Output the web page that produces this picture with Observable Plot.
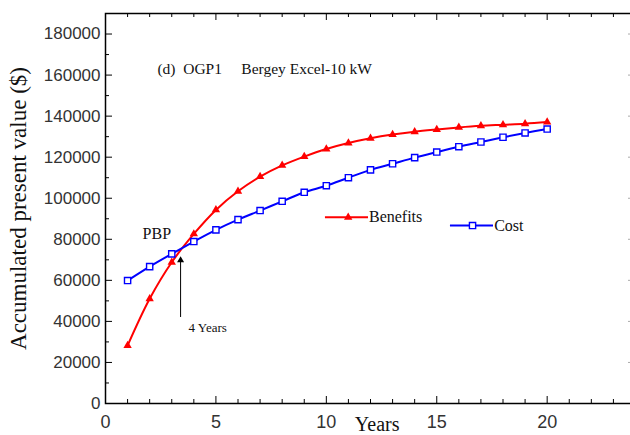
<!DOCTYPE html>
<html><head><meta charset="utf-8">
<script src="https://cdn.jsdelivr.net/npm/d3@7"></script>
<script src="https://cdn.jsdelivr.net/npm/@observablehq/plot@0.6"></script>
<style>
html,body{margin:0;padding:0;background:#fff;overflow:hidden;}
#chart{width:630px;height:435px;overflow:hidden;position:relative;}
#chart svg{max-width:none !important;}
</style></head><body><div id="chart"></div>
<script>
const years = [1,2,3,4,5,6,7,8,9,10,11,12,13,14,15,16,17,18,19,20];
const benefits = [28200,51000,68800,82600,94300,103400,110500,116000,120300,124000,126900,129200,131000,132400,133500,134500,135300,135800,136300,137100];
const cost = [59900,66700,72900,78900,84600,89600,94000,98500,102900,106100,110000,113800,116800,119800,122500,125100,127400,129700,131800,133700];
const xMajor = [0,5,10,15,20];
const xMinor = [1,2,3,4,6,7,8,9,11,12,13,14,16,17,18,19,21,22,23];
const yMajor = [0,20000,40000,60000,80000,100000,120000,140000,160000,180000];
const yMinor = [10000,30000,50000,70000,90000,110000,130000,150000,170000];
const seriesNames = ["Benefits","Cost"];
const titleText = "(d)\u00a0\u00a0OGP1\u00a0\u00a0\u00a0\u00a0\u00a0Bergey Excel-10 kW";

const bRows = years.map((y,i)=>({year:y, value:benefits[i]}));
const cRows = years.map((y,i)=>({year:y, value:cost[i]}));

const serif = "Liberation Serif, Times New Roman, serif";
const sans = "Liberation Sans, Arial, sans-serif";
const W = 636, H = 435, ML = 105, MR = 1, MT = 13, MB = 32;
const fw = W - ML - MR, fh = H - MT - MB;

const chart = Plot.plot({
  width: W, height: H,
  marginLeft: ML, marginRight: MR, marginTop: MT, marginBottom: MB,
  style: {background: "white", overflow: "visible", maxWidth: "none"},
  x: {domain: [0, 24], axis: null},
  y: {domain: [0, 190000], axis: null},
  marks: [
    // inward ticks: bottom / top
    Plot.ruleX(xMajor, {x: d => d, insetTop: fh - 7, stroke: "black"}),
    Plot.ruleX(xMinor, {x: d => d, insetTop: fh - 4, stroke: "black"}),
    Plot.ruleX(xMajor, {x: d => d, insetBottom: fh - 7, stroke: "black"}),
    Plot.ruleX(xMinor, {x: d => d, insetBottom: fh - 4, stroke: "black"}),
    // inward ticks: left / right
    Plot.ruleY(yMajor, {y: d => d, insetRight: fw - 7, stroke: "black"}),
    Plot.ruleY(yMinor, {y: d => d, insetRight: fw - 4, stroke: "black"}),
    Plot.ruleY(yMajor, {y: d => d, insetLeft: fw - 7, stroke: "#aaa"}),
    Plot.ruleY(yMinor, {y: d => d, insetLeft: fw - 4, stroke: "#aaa"}),
    Plot.frame({stroke: "black", strokeWidth: 1.5}),
    // tick labels
    Plot.axisX(xMajor, {anchor: "bottom", tickSize: 0, tickPadding: 12, label: null,
      tickFormat: d => String(d), fontSize: 18, fontFamily: sans, color: "#333"}),
    Plot.axisY(yMajor, {anchor: "left", tickSize: 0, tickPadding: 5, label: null,
      tickFormat: d => String(d), fontSize: 17, fontFamily: sans, color: "#333"}),
    // axis titles
    Plot.text(["Accumulated present value ($)"], {frameAnchor: "left", dx: -87, rotate: -90,
      fontFamily: serif, fontSize: 23, fill: "#111", textAnchor: "middle", lineAnchor: "middle"}),
    Plot.text(["Years"], {x: 12.3, frameAnchor: "bottom", dy: 13, lineAnchor: "top",
      fontFamily: serif, fontSize: 20, fill: "#111"}),
    // series
    Plot.line(bRows, {x: "year", y: "value", stroke: "#ff0000", strokeWidth: 2, curve: "catmull-rom"}),
    Plot.dot(bRows, {x: "year", y: "value", symbol: "triangle", fill: "#ff0000", r: 3.1}),
    Plot.line(cRows, {x: "year", y: "value", stroke: "#0000ff", strokeWidth: 2, curve: "catmull-rom"}),
    Plot.dot(cRows, {x: "year", y: "value", symbol: "square", fill: "white", stroke: "#0000ff", strokeWidth: 1.4, r: 3.5}),
    // legend
    Plot.ruleY([90700], {x1: 9.96, x2: 11.91, stroke: "#ff0000", strokeWidth: 2}),
    Plot.dot([90700], {x: 10.99, y: d => d, symbol: "triangle", fill: "#ff0000", r: 3.1}),
    Plot.text([seriesNames[0]], {x: 11.93, y: 90700, textAnchor: "start", fontFamily: serif, fontSize: 16, fill: "#111"}),
    Plot.ruleY([86700], {x1: 15.62, x2: 17.57, stroke: "#0000ff", strokeWidth: 2}),
    Plot.dot([86700], {x: 16.62, y: d => d, symbol: "square", fill: "white", stroke: "#0000ff", strokeWidth: 1.4, r: 3.5}),
    Plot.text([seriesNames[1]], {x: 17.6, y: 86700, textAnchor: "start", fontFamily: serif, fontSize: 16, fill: "#111"}),
    // annotations
    Plot.text([titleText], {x: 2.35, y: 163000, textAnchor: "start", fontFamily: serif, fontSize: 15.5, fill: "#111"}),
    Plot.text(["PBP"], {x: 1.68, y: 82800, textAnchor: "start", fontFamily: serif, fontSize: 16, fill: "#111"}),
    Plot.ruleX([3.4], {y1: 41900, y2: 69000, stroke: "black", strokeWidth: 1}),
    Plot.dot([3.4], {x: d => d, y: 69800, symbol: "triangle", fill: "black", r: 2.6}),
    Plot.text(["4 Years"], {x: 3.76, y: 37000, textAnchor: "start", fontFamily: serif, fontSize: 13, fill: "#111"})
  ]
});
document.getElementById("chart").appendChild(chart);
</script></body></html>
